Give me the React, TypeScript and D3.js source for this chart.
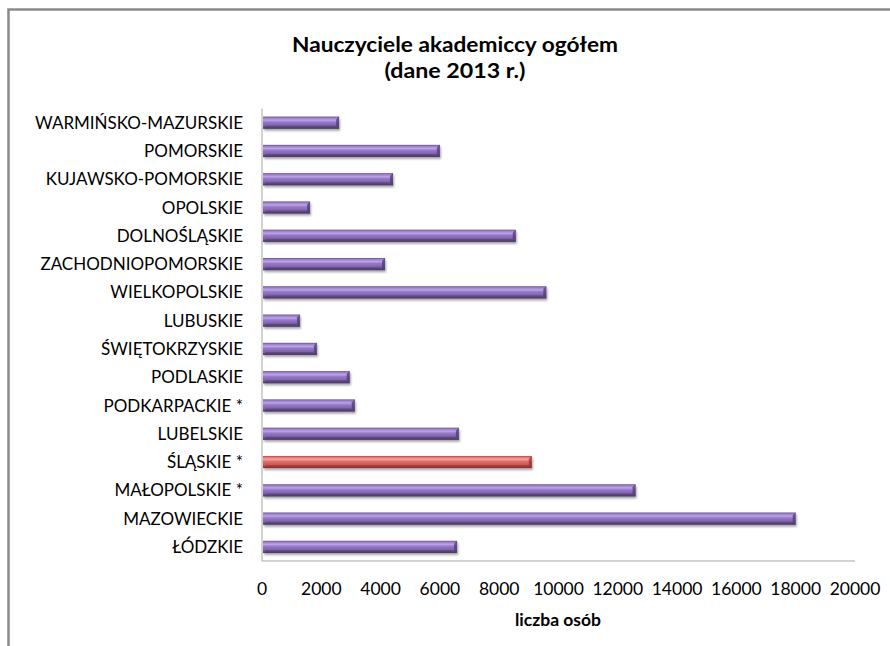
import React, { useEffect, useRef } from "react";
import * as d3 from "d3";

const categories = [
  "WARMIŃSKO-MAZURSKIE",
  "POMORSKIE",
  "KUJAWSKO-POMORSKIE",
  "OPOLSKIE",
  "DOLNOŚLĄSKIE",
  "ZACHODNIOPOMORSKIE",
  "WIELKOPOLSKIE",
  "LUBUSKIE",
  "ŚWIĘTOKRZYSKIE",
  "PODLASKIE",
  "PODKARPACKIE *",
  "LUBELSKIE",
  "ŚLĄSKIE *",
  "MAŁOPOLSKIE *",
  "MAZOWIECKIE",
  "ŁÓDZKIE",
];
const values = [2600, 6000, 4420, 1620, 8560, 4150, 9590, 1280, 1850, 2960, 3130, 6640, 9100, 12600, 18000, 6580];
const highlighted = ["ŚLĄSKIE *"];
const xTicks = [0, 2000, 4000, 6000, 8000, 10000, 12000, 14000, 16000, 18000, 20000];
const titleLines = ["Nauczyciele akademiccy ogółem", "(dane 2013 r.)"];
const xLabel = "liczba osób";

const W = 890;
const H = 646;
const FONT = "Lato, 'Open Sans', sans-serif";

export default function App() {
  const ref = useRef<SVGSVGElement>(null);
  useEffect(() => {
    const svg = d3.select(ref.current);
    svg.selectAll("*").remove();
    const left = 262, right = 855, top = 108.5, bottom = 561;
    const x = d3.scaleLinear().domain([0, 20000]).range([left, right]);
    const y = d3.scaleBand<string>().domain(categories).range([top, bottom]).paddingInner(0.57).paddingOuter(0.285);

    const defs = svg.append("defs");
    const mk = (id: string, stops: [number, string][]) => {
      const g = defs.append("linearGradient").attr("id", id).attr("x1", 0).attr("y1", 0).attr("x2", 0).attr("y2", 1);
      stops.forEach(([o, c]) => g.append("stop").attr("offset", o).attr("stop-color", c));
    };
    mk("gPurple", [[0, "#6a5090"], [0.12, "#9a80c8"], [0.3, "#bba4ea"], [0.45, "#967ac6"], [0.8, "#7a5ea6"], [1, "#4a3566"]]);
    mk("gRed", [[0, "#b04440"], [0.12, "#e07c78"], [0.3, "#f4a09c"], [0.45, "#de6e6a"], [0.8, "#c6524e"], [1, "#8a2e2b"]]);
    const f = defs.append("filter").attr("id", "shadow").attr("x", "-5%").attr("y", "-50%").attr("width", "110%").attr("height", "220%");
    f.append("feGaussianBlur").attr("in", "SourceAlpha").attr("stdDeviation", 1.2).attr("result", "b");
    f.append("feOffset").attr("in", "b").attr("dx", 0.5).attr("dy", 1.5).attr("result", "o");
    f.append("feComponentTransfer").attr("in", "o").attr("result", "s").append("feFuncA").attr("type", "linear").attr("slope", 0.35);
    const m = f.append("feMerge");
    m.append("feMergeNode").attr("in", "s");
    m.append("feMergeNode").attr("in", "SourceGraphic");

    // frame
    svg.append("rect").attr("x", 8.5).attr("y", 9.5).attr("width", 900).attr("height", 700)
      .attr("fill", "white").attr("stroke", "#8a8a8a").attr("stroke-width", 2.5);

    // title
    const titleWidths = [326, 141];
    const titleY = [52, 78];
    titleLines.forEach((l, i) => {
      svg.append("text").attr("x", 455).attr("y", titleY[i]).attr("text-anchor", "middle")
        .attr("font-family", FONT).attr("font-weight", "bold").attr("font-size", 21.5).attr("fill", "#000")
        .attr("textLength", titleWidths[i]).attr("lengthAdjust", "spacingAndGlyphs").text(l);
    });

    // axes lines
    svg.append("line").attr("x1", left).attr("x2", left).attr("y1", top).attr("y2", bottom).attr("stroke", "#a6a6a6").attr("stroke-width", 1);
    svg.append("line").attr("x1", left).attr("x2", right).attr("y1", bottom).attr("y2", bottom).attr("stroke", "#a6a6a6").attr("stroke-width", 1);

    // bars
    const bw = y.bandwidth();
    const g = svg.append("g");
    categories.forEach((c, i) => {
      const isH = highlighted.includes(c);
      const x0 = x(0) + 1, x1 = x(values[i]);
      const y0 = y(c)!;
      const bar = g.append("g").attr("filter", "url(#shadow)");
      bar.append("rect").attr("x", x0).attr("y", y0).attr("width", x1 - x0).attr("height", bw)
        .attr("fill", isH ? "url(#gRed)" : "url(#gPurple)");
      const e = 3;
      bar.append("path").attr("d", `M${x1 - e},${y0 + e} L${x1},${y0} L${x1},${y0 + bw} L${x1 - e},${y0 + bw - e} Z`)
        .attr("fill", isH ? "#8e3431" : "#4e3a6c").attr("opacity", 0.75);
      bar.append("path").attr("d", `M${x0},${y0 + bw} L${x0 + e},${y0 + bw - e} L${x1 - e},${y0 + bw - e} L${x1},${y0 + bw} Z`)
        .attr("fill", isH ? "#8a2e2b" : "#4a3566").attr("opacity", 0.5);
      svg.append("text").attr("x", 243).attr("y", y0 + bw / 2).attr("dy", "0.36em").attr("text-anchor", "end")
        .attr("font-family", FONT).attr("font-size", 17).attr("fill", "#000").text(c);
    });

    xTicks.forEach((v) => {
      svg.append("text").attr("x", x(v)).attr("y", 595).attr("text-anchor", "middle")
        .attr("font-family", FONT).attr("font-size", 17.5).attr("fill", "#000").text(String(v));
    });
    svg.append("text").attr("x", 558).attr("y", 626).attr("text-anchor", "middle")
      .attr("font-family", FONT).attr("font-weight", "bold").attr("font-size", 17.5).attr("fill", "#000").text(xLabel);
  }, []);
  return (
    <svg ref={ref} width={W} height={H} style={{ position: "absolute", left: 0, top: 0, background: "white" }} />
  );
}
